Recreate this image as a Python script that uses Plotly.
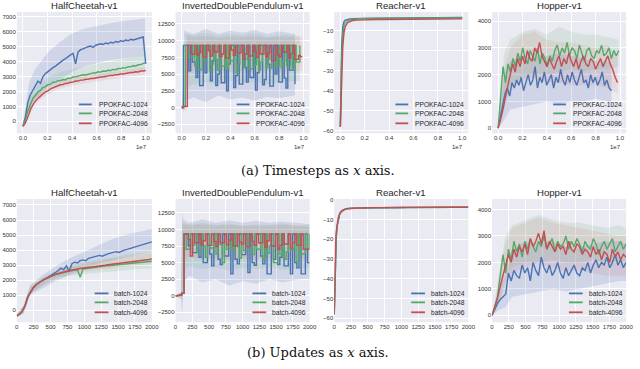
import numpy as np
import plotly.graph_objects as go

BLUE, GREEN, RED = "#4C72B0", "#55A868", "#C44E52"
BAND = {BLUE: "rgba(76,114,176,0.17)", GREEN: "rgba(85,168,104,0.13)", RED: "rgba(196,78,82,0.11)"}
FONT = "Liberation Sans, Arial, sans-serif"
W, H = 640, 369

envs = ["HalfCheetah-v1", "InvertedDoublePendulum-v1", "Reacher-v1", "Hopper-v1"]
top_names = ["PPOKFAC-1024", "PPOKFAC-2048", "PPOKFAC-4096"]
bottom_names = ["batch-1024", "batch-2048", "batch-4096"]

# ---------------- top row: timesteps (units of 1e7) ----------------
# HalfCheetah
hc_t_end = [1.0, 1.0, 1.0]
hc_t_blue = [-300, 300, 1300, 1800, 2100, 2400, 2700, 2550, 3000, 3200, 3350, 3450, 3600, 3700, 3850,
             3950, 4100, 4200, 4350, 4450, 4550, 3850, 4650, 4800, 4850, 4950, 5000, 5050, 4950, 5100,
             5150, 5200, 5150, 5250, 5200, 5300, 5250, 5350, 5300, 5400, 5350, 5450, 5400, 5500, 5450,
             5500, 5550, 5600, 5650, 3850]
hc_t_green = [-300, 100, 700, 1200, 1550, 1750, 1980, 2080, 2270, 2330, 2470, 2490, 2620, 2630, 2720,
              2740, 2800, 2790, 2890, 2880, 2970, 2980, 3040, 3050, 3120, 3110, 3170, 3190, 3250, 3240,
              3320, 3300, 3370, 3360, 3420, 3410, 3480, 3460, 3540, 3530, 3600, 3580, 3660, 3650, 3720,
              3710, 3790, 3800, 3870, 3950]
hc_t_red = [-350, -100, 300, 800, 1100, 1370, 1540, 1720, 1840, 1970, 2040, 2170, 2240, 2320, 2370,
            2450, 2470, 2540, 2550, 2620, 2630, 2700, 2700, 2760, 2760, 2820, 2810, 2870, 2870, 2920,
            2920, 2970, 2970, 3020, 3020, 3080, 3070, 3130, 3120, 3180, 3170, 3220, 3220, 3270, 3270,
            3320, 3310, 3370, 3370, 3410]
hc_t_band_x = [0, 0.05, 0.1, 0.2, 0.3, 0.4, 0.5, 0.6, 0.7, 0.8, 0.9, 1.0]
hc_t_blue_hi = [-200, 2600, 3500, 4600, 5300, 5900, 6200, 6400, 6550, 6700, 6800, 6900]
hc_t_blue_lo = [-400, 900, 1500, 2300, 2800, 3300, 3700, 3900, 4100, 4200, 4300, 4400]
hc_t_green_hi = [-200, 1700, 2300, 2900, 3300, 3500, 3700, 3850, 4000, 4150, 4300, 4450]
hc_t_green_lo = [-400, 700, 1500, 2100, 2450, 2650, 2750, 2900, 3050, 3150, 3300, 3400]
hc_t_red_hi = [-250, 1200, 1800, 2400, 2700, 2900, 3050, 3150, 3250, 3400, 3500, 3650]
hc_t_red_lo = [-450, 400, 1200, 1800, 2200, 2400, 2550, 2700, 2800, 2900, 3050, 3150]

# InvertedDoublePendulum
idp_t_end = [0.93, 0.97, 0.99]
idp_t_blue = [0, 9300, 9300, 9300, 5500, 9300, 6800, 6800, 4500, 9300, 3300, 3300, 9300, 5200, 9300,
              9300, 4000, 7000, 9300, 3300, 5000, 9300, 3700, 3700, 9300, 2500, 6500, 9300, 9300, 3000,
              4800, 9300, 3500, 3500, 9300, 6000, 3800, 9300, 4500, 4500, 9300, 2600, 5200, 9300, 9300,
              3400, 4200, 9300, 6500, 3200, 3200, 9300, 5000, 9300, 3800, 3800, 9300, 4400, 2900, 9300,
              5600, 5600, 9300, 3500]
idp_t_green = [0, 200, 9300, 9300, 7500, 7500, 9300, 6300, 9300, 5700, 5700, 9300, 7000, 9300, 9300,
               5500, 6500, 9300, 7200, 5600, 9300, 6200, 6200, 9300, 5800, 9300, 7000, 7000, 9300, 5200,
               6500, 9300, 9300, 6000, 7300, 9300, 5800, 5800, 9300, 6400, 9300, 5600, 6800, 9300, 9300,
               6000, 7200, 9300, 5900, 5900, 9300, 6300, 9300, 6000, 7000, 9300, 6200, 6200, 9300, 5700,
               9300, 6800, 6800, 9300]
idp_t_red = [0, 150, 150, 9300, 9300, 8000, 8000, 9300, 7800, 8200, 9300, 7500, 7500, 9300, 8500,
             7700, 9300, 8300, 8300, 9300, 7600, 8000, 9300, 7400, 7400, 9300, 8600, 7800, 9300, 8200,
             8200, 9300, 7300, 8000, 9300, 7700, 7700, 9300, 8400, 7500, 9300, 8000, 8000, 9300, 7600,
             8200, 9300, 7000, 7000, 9300, 7900, 7600, 9300, 8300, 8300, 9300, 7400, 8100, 9300, 7200,
             7200, 7800, 7600, 7600]
idp_t_blue_bx = [0, 0.01, 0.02, 0.1, 0.2, 0.3, 0.4, 0.5, 0.6, 0.7, 0.8, 0.93]
idp_t_blue_hi = [0, 3000, 11500, 11000, 11800, 11000, 11500, 11200, 11600, 11000, 11400, 11000]
idp_t_blue_lo = [0, -500, 1000, 1500, 800, 1800, 1200, 1500, 1000, 1600, 1400, 1800]
idp_t_green_bx = [0, 0.02, 0.03, 0.1, 0.2, 0.3, 0.4, 0.5, 0.6, 0.7, 0.8, 0.97]
idp_t_green_hi = [0, 1500, 11000, 10800, 11200, 10700, 11000, 10800, 11100, 10600, 10900, 10800]
idp_t_green_lo = [0, -800, 3000, 3500, 3800, 3500, 4000, 3600, 3900, 3500, 3800, 4000]
idp_t_red_bx = [0, 0.035, 0.045, 0.1, 0.2, 0.3, 0.4, 0.5, 0.6, 0.7, 0.8, 0.99]
idp_t_red_hi = [300, 2500, 10800, 10500, 10700, 10400, 10600, 10500, 10700, 10400, 10600, 10500]
idp_t_red_lo = [0, -500, 5000, 5500, 5200, 5600, 5300, 5500, 5200, 5600, 5400, 5500]

# Reacher
re_t_x = [0, 0.005, 0.01, 0.02, 0.03, 0.04, 0.06, 0.08, 0.1, 0.13, 0.16, 0.2, 0.25, 0.3, 0.35, 0.4,
          0.45, 0.5, 0.55, 0.6, 0.65, 0.7, 0.75, 0.8, 0.85, 0.9, 0.95, 1.0]
re_t_blue = [-58, -35, -18, -8, -5.5, -4.8, -4.4, -4.2, -4.1, -4.0, -3.95, -3.9, -3.85, -3.8, -3.8,
             -3.75, -3.75, -3.7, -3.7, -3.7, -3.65, -3.65, -3.6, -3.6, -3.6, -3.55, -3.55, -3.5]
re_t_green = [-58, -40, -25, -12, -7.5, -6, -5, -4.6, -4.4, -4.2, -4.1, -4.0, -3.95, -3.9, -3.9,
              -3.85, -3.85, -3.8, -3.8, -3.8, -3.75, -3.75, -3.75, -3.7, -3.7, -3.7, -3.65, -3.65]
re_t_red = [-58, -45, -32, -18, -11, -8, -6, -5.3, -5.0, -4.8, -4.7, -4.6, -4.5, -4.5, -4.45, -4.4,
            -4.4, -4.35, -4.35, -4.3, -4.3, -4.3, -4.25, -4.25, -4.2, -4.2, -4.2, -4.15]

# Hopper
ho_t_end = [0.93, 0.99, 0.98]
ho_t_blue = [0, 400, 900, 1300, 1500, 1200, 1700, 1500, 1800, 1600, 1900, 1400, 1700, 2000, 1600,
             1800, 2300, 1500, 1900, 1700, 2100, 1600, 1800, 2000, 1500, 1900, 1700, 2200, 1800, 1600,
             2000, 1700, 2100, 1800, 1600, 1900, 2200, 1700, 1800, 1500, 2000, 1700, 1900, 1600, 1800,
             2100, 1600, 1800, 1500, 1400]
ho_t_green = [0, 1000, 2300, 1700, 2400, 2100, 2600, 2300, 2800, 2500, 3000, 2600, 2400, 2900, 2700,
              2500, 3000, 2400, 2800, 2600, 2300, 2700, 2500, 2900, 3100, 2700, 3000, 2800, 3200, 2700,
              3000, 2900, 2600, 3100, 2800, 2500, 2900, 3000, 2700, 2600, 2900, 2800, 3100, 2700, 2800,
              3000, 2600, 2900, 2700, 2900]
ho_t_red = [0, 300, 700, 1200, 1600, 2000, 2400, 2100, 2600, 2300, 2700, 2400, 2900, 2600, 2500,
            3000, 2800, 3200, 2700, 2500, 2300, 2600, 2400, 2200, 2500, 2700, 2300, 2600, 2400, 2800,
            2500, 2300, 2600, 2200, 2500, 2700, 2400, 2300, 2600, 2500, 2200, 2400, 2600, 2300, 2500,
            2700, 2400, 2200, 1900, 1700]
ho_t_blue_bx = [0, 0.05, 0.1, 0.2, 0.3, 0.4, 0.5, 0.6, 0.7, 0.8, 0.9, 0.93]
ho_t_blue_hi = [0, 2000, 2500, 2700, 2800, 2700, 2800, 2700, 2600, 2500, 2500, 2400]
ho_t_blue_lo = [0, 300, 700, 800, 900, 1000, 900, 1000, 1000, 1100, 1000, 900]
ho_t_green_bx = [0, 0.05, 0.1, 0.2, 0.3, 0.4, 0.5, 0.6, 0.7, 0.8, 0.9, 0.99]
ho_t_green_hi = [0, 2800, 3300, 3600, 3700, 3500, 3800, 3600, 3500, 3500, 3400, 3300]
ho_t_green_lo = [0, 900, 1600, 1900, 2000, 2000, 2100, 2200, 2100, 2200, 2200, 2300]
ho_t_red_bx = [0, 0.05, 0.1, 0.2, 0.3, 0.4, 0.5, 0.6, 0.7, 0.8, 0.9, 0.98]
ho_t_red_hi = [0, 2200, 3000, 3500, 3600, 3300, 3200, 3200, 3100, 3000, 3100, 2600]
ho_t_red_lo = [0, 700, 1500, 1800, 1900, 1700, 1700, 1600, 1600, 1600, 1500, 1300]

# ---------------- bottom row: updates ----------------
upd_end = 2000
hc_u_blue = [-350, -250, -50, 300, 900, 1250, 1500, 1700, 1850, 1950, 2050, 2150, 2250, 2350, 2500,
             2650, 2800, 2700, 2950, 2600, 3100, 3200, 3150, 3300, 3350, 3300, 3450, 3500, 3550, 3600,
             3650, 3600, 3700, 3750, 3800, 3850, 3900, 3850, 3950, 4000, 4050, 4100, 4150, 4200, 4250,
             4300, 4350, 4400, 4500, 4550]
hc_u_green = [-350, -250, -50, 300, 900, 1250, 1500, 1700, 1850, 1950, 2050, 2150, 2250, 2300, 2380,
              2430, 2480, 2520, 2560, 2600, 2640, 2680, 2700, 2200, 2750, 2780, 2800, 2830, 2850, 2870,
              2900, 2920, 2940, 2960, 2980, 3000, 3020, 3040, 3060, 3080, 3100, 3110, 3130, 3150, 3170,
              3180, 3200, 3220, 3240, 3260]
hc_u_red = [-350, -250, -50, 300, 900, 1250, 1500, 1700, 1850, 1950, 2050, 2150, 2250, 2300, 2380,
            2450, 2500, 2550, 2600, 2650, 2680, 2720, 2750, 2780, 2800, 2830, 2860, 2880, 2900, 2930,
            2960, 2980, 3000, 3030, 3050, 3070, 3100, 3120, 3140, 3160, 3180, 3200, 3230, 3250, 3270,
            3300, 3320, 3350, 3380, 3420]
hc_u_band_x = [0, 100, 200, 400, 600, 800, 1000, 1200, 1400, 1600, 1800, 2000]
hc_u_blue_hi = [-250, 300, 1700, 2400, 3000, 3500, 3900, 4300, 4700, 5000, 5200, 5400]
hc_u_blue_lo = [-450, -200, 1000, 1500, 2000, 2400, 2800, 3100, 3300, 3500, 3700, 3900]
hc_u_green_hi = [-250, 300, 1600, 2200, 2700, 3000, 3200, 3400, 3500, 3700, 3800, 3900]
hc_u_green_lo = [-450, -200, 1100, 1700, 2100, 2300, 2400, 2500, 2600, 2700, 2750, 2800]
hc_u_red_hi = [-250, 300, 1600, 2200, 2600, 2900, 3100, 3300, 3450, 3550, 3700, 3800]
hc_u_red_lo = [-450, -200, 1100, 1700, 2200, 2400, 2550, 2700, 2800, 2900, 3000, 3100]

idp_u_blue = [0, 50, 150, 400, 9300, 9300, 7500, 9300, 6500, 6500, 9300, 5800, 9300, 5000, 5000,
              9300, 6300, 4500, 9300, 9300, 5500, 4700, 9300, 6000, 6000, 9300, 3300, 9300, 5500, 4800,
              9300, 6200, 6200, 9300, 3500, 9300, 5000, 4600, 9300, 9300, 6000, 4800, 9300, 3300, 3300,
              9300, 5500, 9300, 4700, 5800, 9300, 4500, 4500, 9300, 3300, 9300, 5000, 4200, 9300, 3300,
              3300, 9300, 5000, 5000]
idp_u_green = [0, 50, 150, 400, 9300, 7000, 7000, 9300, 7600, 9300, 6500, 6500, 9300, 7500, 5800,
               9300, 7200, 7200, 9300, 6300, 9300, 7700, 5000, 9300, 7000, 7000, 9300, 6600, 9300, 7400,
               5700, 9300, 6800, 6800, 9300, 7500, 6200, 9300, 7000, 7000, 9300, 5500, 9300, 6400, 7500,
               9300, 5000, 5000, 9300, 6200, 9300, 5500, 6600, 9300, 7000, 7000, 9300, 5200, 9300, 6300,
               6300, 9300, 7200, 9300]
idp_u_red = [0, 50, 150, 400, 9300, 9300, 8500, 6000, 9300, 8000, 8000, 9300, 7700, 8300, 9300,
             7600, 7600, 9300, 8200, 7400, 9300, 8000, 8000, 9300, 7700, 8400, 9300, 7500, 7500, 9300,
             8100, 7800, 9300, 7400, 7400, 9300, 8200, 7600, 9300, 8000, 8000, 9300, 7300, 8300, 9300,
             7500, 7500, 9300, 7000, 7600, 9300, 7800, 7800, 9300, 7200, 8000, 9300, 7600, 7600, 9300,
             7000, 7000, 7000, 7000]
idp_u_band_x = [0, 80, 100, 120, 200, 400, 600, 800, 1000, 1200, 1400, 1600, 1800, 2000]
idp_u_blue_hi = [0, 500, 12500, 11500, 11000, 11500, 11000, 11400, 11000, 11300, 11000, 11200, 11000, 10800]
idp_u_blue_lo = [0, -500, -3000, 2000, 3000, 2000, 2500, 1500, 2200, 1800, 2500, 2000, 2400, 2600]
idp_u_green_hi = [0, 500, 11500, 11000, 10800, 11000, 10700, 10900, 10600, 10800, 10700, 10900, 10600, 10700]
idp_u_green_lo = [0, -300, -1000, 4000, 4500, 4000, 4300, 3800, 4200, 4000, 4300, 3900, 4100, 4200]
idp_u_red_hi = [0, 500, 11000, 10800, 10600, 10800, 10500, 10700, 10500, 10600, 10500, 10700, 10500, 10400]
idp_u_red_lo = [0, -300, -500, 5500, 5800, 5500, 5700, 5400, 5600, 5500, 5700, 5400, 5600, 5500]

re_u_x = [0, 10, 20, 30, 45, 60, 80, 100, 130, 160, 200, 250, 300, 400, 500, 600, 700, 800, 900,
          1000, 1100, 1200, 1300, 1400, 1500, 1600, 1700, 1800, 1900, 2000]
re_u_blue = [-58, -40, -27, -19, -13, -10, -7.5, -6.2, -5.3, -4.8, -4.5, -4.3, -4.2, -4.1, -4.0,
             -3.95, -3.9, -3.9, -3.85, -3.85, -3.8, -3.8, -3.8, -3.75, -3.75, -3.75, -3.7, -3.7, -3.7, -3.7]
re_u_green = [-58, -38, -25, -18, -12.5, -9.5, -7.2, -6.0, -5.1, -4.7, -4.4, -4.25, -4.15, -4.05, -4.0,
              -3.95, -3.9, -3.85, -3.85, -3.8, -3.8, -3.8, -3.75, -3.75, -3.75, -3.7, -3.7, -3.7, -3.7, -3.65]
re_u_red = [-58, -35, -23, -16, -11.5, -9, -7, -5.8, -5.0, -4.6, -4.3, -4.2, -4.1, -4.0, -3.95,
            -3.9, -3.9, -3.85, -3.85, -3.8, -3.8, -3.8, -3.75, -3.75, -3.75, -3.7, -3.7, -3.7, -3.7, -3.65]

ho_u_blue = [0, 250, 450, 600, 700, 800, 1600, 1300, 1700, 1500, 1400, 1900, 1600, 1800, 1300,
             2000, 1700, 1500, 2200, 1800, 1600, 1900, 1500, 1700, 2000, 1600, 1400, 1800, 1500, 1700,
             1900, 1600, 1500, 1800, 1700, 2000, 1600, 1900, 2100, 1800, 2000, 1900, 2200, 1800, 2000,
             2300, 1900, 2100, 1800, 2000]
ho_u_green = [0, 300, 700, 1500, 2300, 1600, 2500, 2100, 2800, 2400, 2700, 2200, 2800, 2500, 2900,
              2600, 2400, 2800, 2600, 3000, 2500, 2700, 2900, 2400, 2800, 2600, 2700, 3000, 2500, 2800,
              2600, 2900, 2700, 2400, 2800, 2600, 2500, 2900, 2700, 2300, 2600, 2800, 2500, 2700, 2900,
              2400, 2600, 2800, 2500, 2700]
ho_u_red = [0, 300, 650, 1100, 1500, 1900, 2300, 2000, 2500, 2200, 2600, 2400, 2700, 2300, 2900,
            2600, 2800, 3100, 2700, 3200, 2500, 2800, 2600, 2400, 2700, 2500, 2600, 2300, 2800, 2500,
            2400, 2700, 2600, 2300, 2500, 2400, 2200, 2600, 2300, 2500, 2100, 2400, 2300, 2000, 2500,
            2200, 2400, 2100, 2300, 2200]
ho_u_band_x = [0, 100, 200, 300, 500, 700, 900, 1100, 1300, 1500, 1700, 1900, 2000]
ho_u_blue_hi = [0, 1000, 1500, 2500, 2800, 2700, 2800, 2600, 2600, 2700, 2800, 2800, 2700]
ho_u_blue_lo = [0, 200, 300, 700, 800, 900, 1000, 900, 1000, 1100, 1200, 1300, 1300]
ho_u_green_hi = [0, 1500, 3000, 3400, 3600, 3800, 3600, 3500, 3500, 3400, 3300, 3400, 3300]
ho_u_green_lo = [0, 500, 1500, 1800, 2000, 2000, 2100, 2000, 2000, 2100, 2000, 2000, 2100]
ho_u_red_hi = [0, 1200, 2700, 3300, 3500, 3700, 3500, 3400, 3300, 3200, 3100, 3000, 3000]
ho_u_red_lo = [0, 400, 1200, 1600, 1800, 2000, 1800, 1700, 1700, 1600, 1500, 1500, 1500]

# axes boxes in pixels: (left, right) per column, (top, bottom) per row
col_px = [(15, 152), (176, 312), (337, 473), (497, 633)]
row_px = {"top": (10, 132), "bottom": (198, 322)}


def px_x(v):
    return v / W


def px_y(v):
    return 1 - v / H


def grid_x(end, vals):
    return np.linspace(0, end, len(vals))


def build_panels():
    p = []
    p.append(dict(row="top", col=0, names=top_names, shape="linear",
                  lines=[(grid_x(e, v), v) for e, v in zip(hc_t_end, [hc_t_blue, hc_t_green, hc_t_red])],
                  bands=[(hc_t_band_x, hc_t_blue_lo, hc_t_blue_hi), (hc_t_band_x, hc_t_green_lo, hc_t_green_hi),
                         (hc_t_band_x, hc_t_red_lo, hc_t_red_hi)],
                  yrange=[-800, 7330], ydtick=1000))
    p.append(dict(row="top", col=1, names=top_names, shape="hv",
                  lines=[(grid_x(e, v), v) for e, v in zip(idp_t_end, [idp_t_blue, idp_t_green, idp_t_red])],
                  bands=[(idp_t_blue_bx, idp_t_blue_lo, idp_t_blue_hi), (idp_t_green_bx, idp_t_green_lo, idp_t_green_hi),
                         (idp_t_red_bx, idp_t_red_lo, idp_t_red_hi)],
                  yrange=[-3850, 14300], ydtick=2500))
    p.append(dict(row="top", col=2, names=top_names, shape="linear",
                  lines=[(re_t_x, v) for v in [re_t_blue, re_t_green, re_t_red]],
                  bands=[], yrange=[-61.3, -0.7], ydtick=10))
    p.append(dict(row="top", col=3, names=top_names, shape="linear",
                  lines=[(grid_x(e, v), v) for e, v in zip(ho_t_end, [ho_t_blue, ho_t_green, ho_t_red])],
                  bands=[(ho_t_blue_bx, ho_t_blue_lo, ho_t_blue_hi), (ho_t_green_bx, ho_t_green_lo, ho_t_green_hi),
                         (ho_t_red_bx, ho_t_red_lo, ho_t_red_hi)],
                  yrange=[-190, 4340], ydtick=1000))
    p.append(dict(row="bottom", col=0, names=bottom_names, shape="linear",
                  lines=[(grid_x(upd_end, v), v) for v in [hc_u_blue, hc_u_green, hc_u_red]],
                  bands=[(hc_u_band_x, hc_u_blue_lo, hc_u_blue_hi), (hc_u_band_x, hc_u_green_lo, hc_u_green_hi),
                         (hc_u_band_x, hc_u_red_lo, hc_u_red_hi)],
                  yrange=[-790, 7400], ydtick=1000))
    p.append(dict(row="bottom", col=1, names=bottom_names, shape="hv",
                  lines=[(grid_x(upd_end, v), v) for v in [idp_u_blue, idp_u_green, idp_u_red]],
                  bands=[(idp_u_band_x, idp_u_blue_lo, idp_u_blue_hi), (idp_u_band_x, idp_u_green_lo, idp_u_green_hi),
                         (idp_u_band_x, idp_u_red_lo, idp_u_red_hi)],
                  yrange=[-4000, 14600], ydtick=2500))
    p.append(dict(row="bottom", col=2, names=bottom_names, shape="linear",
                  lines=[(re_u_x, v) for v in [re_u_blue, re_u_green, re_u_red]],
                  bands=[], yrange=[-62, 0.5], ydtick=10))
    p.append(dict(row="bottom", col=3, names=bottom_names, shape="linear",
                  lines=[(grid_x(upd_end, v), v) for v in [ho_u_blue, ho_u_green, ho_u_red]],
                  bands=[(ho_u_band_x, ho_u_blue_lo, ho_u_blue_hi), (ho_u_band_x, ho_u_green_lo, ho_u_green_hi),
                         (ho_u_band_x, ho_u_red_lo, ho_u_red_hi)],
                  yrange=[-260, 4400], ydtick=1000))
    return p


fig = go.Figure()
layout = dict(width=W, height=H, margin=dict(l=0, r=0, t=0, b=0),
              paper_bgcolor="white", plot_bgcolor="#EAEAF2", showlegend=False,
              font=dict(family=FONT, color="#262626"))
annotations = []
shapes = []
colors = [BLUE, GREEN, RED]

for k, pan in enumerate(build_panels(), start=1):
    xa = "x" if k == 1 else f"x{k}"
    ya = "y" if k == 1 else f"y{k}"
    left, right = col_px[pan["col"]]
    top, bottom = row_px[pan["row"]]
    xd = [px_x(left), px_x(right)]
    yd = [px_y(bottom), px_y(top)]

    for (bx, lo, hi), col in zip(pan["bands"], colors):
        fig.add_trace(go.Scatter(x=bx, y=hi, mode="lines", line=dict(width=0), xaxis=xa, yaxis=ya,
                                 hoverinfo="skip"))
        fig.add_trace(go.Scatter(x=bx, y=lo, mode="lines", line=dict(width=0), fill="tonexty",
                                 fillcolor=BAND[col], xaxis=xa, yaxis=ya, hoverinfo="skip"))
    for (lx, ly), col, name in zip(pan["lines"], colors, pan["names"]):
        fig.add_trace(go.Scatter(x=lx, y=ly, mode="lines", name=name,
                                 line=dict(color=col, width=1.4, shape=pan["shape"]),
                                 xaxis=xa, yaxis=ya))

    if pan["row"] == "top":
        xaxis = dict(range=[-0.05, 1.05], tickvals=[0, 0.2, 0.4, 0.6, 0.8, 1.0], tickformat=".1f")
        annotations.append(dict(text="1e7", x=px_x(right - 3), y=px_y(bottom + 9), xref="paper",
                                yref="paper", xanchor="right", yanchor="top", showarrow=False,
                                font=dict(size=6, color="#333")))
        leg_line, leg_text = (74, 61), 56
    else:
        xaxis = dict(range=[0, 2000], tickvals=list(range(0, 2001, 250)))
        leg_line, leg_text = (58, 44), 40
    xaxis.update(domain=xd, anchor=ya, showgrid=True, gridcolor="white", gridwidth=1, zeroline=False,
                 showline=False, ticks="", tickfont=dict(size=6, color="#333"))
    yaxis = dict(domain=yd, anchor=xa, range=pan["yrange"], dtick=pan["ydtick"], tickformat="d",
                 showgrid=True, gridcolor="white", gridwidth=1, zeroline=False, showline=False,
                 ticks="", tickfont=dict(size=6, color="#333"))
    layout["xaxis" if k == 1 else f"xaxis{k}"] = xaxis
    layout["yaxis" if k == 1 else f"yaxis{k}"] = yaxis

    # legend drawn in the lower right corner of each axes
    for i, (name, col) in enumerate(zip(pan["names"], colors)):
        ly = bottom - [29, 20, 10][i]
        shapes.append(dict(type="line", xref="paper", yref="paper",
                           x0=px_x(right - leg_line[0]), x1=px_x(right - leg_line[1]),
                           y0=px_y(ly), y1=px_y(ly), line=dict(color=col, width=1.8)))
        annotations.append(dict(text=name, x=px_x(right - leg_text), y=px_y(ly), xref="paper",
                                yref="paper", xanchor="left", yanchor="middle", showarrow=False,
                                font=dict(size=6.7, color="#262626")))

    annotations.append(dict(text=envs[pan["col"]], x=(xd[0] + xd[1]) / 2, y=yd[1], xref="paper",
                            yref="paper", xanchor="center", yanchor="bottom", yshift=-1, showarrow=False,
                            font=dict(size=9.6, color="#262626")))

annotations.append(dict(text="(a) Timesteps as <i>x</i> axis.", x=0.5, y=px_y(169), xref="paper",
                        yref="paper", xanchor="center", yanchor="middle", showarrow=False,
                        font=dict(family="DejaVu Serif, serif", size=13, color="#111")))
annotations.append(dict(text="(b) Updates as <i>x</i> axis.", x=0.5, y=px_y(352), xref="paper",
                        yref="paper", xanchor="center", yanchor="middle", showarrow=False,
                        font=dict(family="DejaVu Serif, serif", size=13, color="#111")))
layout["annotations"] = annotations
layout["shapes"] = shapes
fig.update_layout(**layout)

fig.write_html("out.html", config={"displayModeBar": False},
               post_script="document.body.style.margin='0';")
